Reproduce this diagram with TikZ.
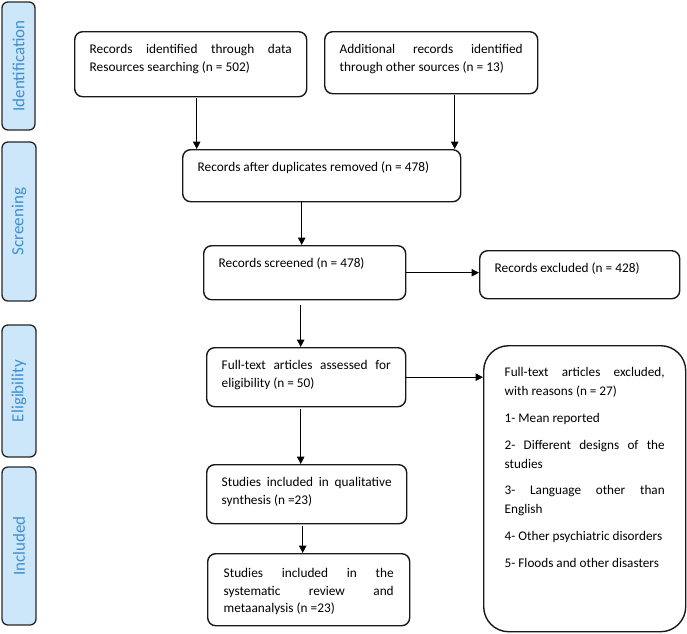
\documentclass[tikz,border=0pt]{standalone}
\usepackage{fontspec}
\setmainfont{Carlito}
\usetikzlibrary{arrows.meta}
\definecolor{sidefill}{HTML}{CCE7FA}
\definecolor{sidetext}{HTML}{3E8FD0}
\hyphenpenalty=10000
\exhyphenpenalty=10000
\tikzset{
  box/.style={draw=black!90, line width=1.4pt, rounded corners=8pt, anchor=north west,
    inner xsep=15pt, inner ysep=0pt, align=justify, text height=22pt,
    font=\fontsize{13.3}{17.3}\selectfont},
  side/.style={draw=black!85, line width=1.3pt, fill=sidefill, rounded corners=6pt,
    rotate=90, text=sidetext, font=\fontsize{17}{20}\selectfont, inner sep=0pt},
  arr/.style={-{Triangle[length=7.5pt,width=7.5pt]}, line width=1pt, draw=black},
}
\begin{document}
\begin{tikzpicture}[x=1pt,y=-1pt]
\useasboundingbox (0,0) rectangle (687,633);
% phase labels
\node[side, minimum width=128pt, minimum height=33pt] (pid) at (18.5,66) {Identification};
\node[side, minimum width=159pt, minimum height=34pt] (psc) at (19,221.5) {Screening};
\node[side, minimum width=132pt, minimum height=34pt] (pel) at (19,391) {Eligibility};
\node[side, minimum width=158pt, minimum height=34pt] (pin) at (19,546) {Included};
% boxes
\node[box, text width=202pt, text depth=43pt] (b1) at (74,31)
  {Records identified through data\linebreak Resources searching (n = 502)};
\node[box, text width=183pt, text depth=40pt] (b2) at (324,31)
  {Additional records identified\linebreak through other sources (n = 13)};
\node[box, text width=248pt, text depth=30pt] (b3) at (182,149)
  {Records after duplicates removed (n = 478)};
\node[box, text width=172pt, text depth=32pt] (b4) at (203,245)
  {Records screened (n = 478)};
\node[box, text width=170pt, text depth=26pt] (b5) at (479,250)
  {Records excluded (n = 428)};
\node[box, text width=169pt, text depth=37pt] (b6) at (206,347)
  {Full-text articles assessed for\linebreak eligibility (n = 50)};
\node[box, text width=170pt, text depth=37pt] (b7) at (206,464)
  {Studies included in qualitative\linebreak synthesis (n =23)};
\node[box, text width=170pt, text depth=48pt, inner xsep=16pt, text height=24pt] (b8) at (207,553)
  {Studies included in the\linebreak systematic review and\linebreak metaanalysis (n =23)};
\node[box, text width=160pt, inner xsep=21pt, text height=31pt, text depth=255pt,
  rounded corners=25pt, font=\fontsize{13.2}{19}\selectfont] (b9) at (483,345)
  {Full-text articles excluded,\linebreak with reasons (n = 27)\\[7.7pt]
   1- Mean reported\\[7.7pt]
   2- Different designs of the\linebreak studies\\[7.7pt]
   3- Language other than\linebreak English\\[7.7pt]
   4- Other psychiatric disorders\\[7.7pt]
   5- Floods and other disasters};
% connectors
\draw[arr] ([xshift=6pt,yshift=-1pt]b1.south) -- ([xshift=6pt]b1.south |- b3.north);
\draw[arr] ([xshift=23.5pt,yshift=-1pt]b2.south) -- ([xshift=23.5pt]b2.south |- b3.north);
\draw[arr] ([xshift=-3pt]b4.north |- b3.south) -- ([xshift=-3pt]b4.north);
\draw[arr] (b4.east) -- (b4.east -| b5.west);
\draw[arr] ([xshift=-4pt,yshift=-5pt]b4.south) -- ([xshift=-4pt]b4.south |- b6.north);
\draw[arr] (b6.east) -- (b6.east -| b9.west);
\draw[arr] ([xshift=-5.5pt,yshift=-2pt]b6.south) -- ([xshift=-5.5pt]b6.south |- b7.north);
\draw[arr] ([xshift=-4pt,yshift=-2pt]b7.south) -- ([xshift=-4pt]b7.south |- b8.north);
\end{tikzpicture}
\end{document}
